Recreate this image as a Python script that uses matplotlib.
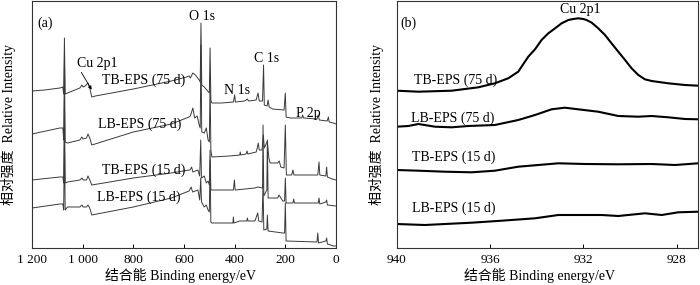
import matplotlib
matplotlib.use("Agg")
import matplotlib.pyplot as plt

plt.rcParams['font.family'] = ['Liberation Serif', 'Noto Sans CJK SC']
plt.rcParams['font.size'] = 10

# ---- panel (a): survey spectra, (binding energy eV, relative intensity)
tb75 = [(1200, 157), (1150, 158), (1090, 160), (1078, 161), (1075, 154), (1072, 210), (1069, 154),
        (1060, 155), (1011, 160), (1003, 163), (998, 161), (990, 162), (979, 165), (972, 160),
        (964, 151), (950, 152), (800, 159), (650, 167), (590, 171), (580, 172), (575, 170),
        (565, 175), (555, 173), (540, 168), (536, 166), (533, 225), (530, 163), (520, 161),
        (510, 158), (500, 155), (497, 200), (494, 148), (490, 145), (450, 145), (405, 146),
        (400, 153), (397, 146), (360, 147), (350, 149), (345, 147), (315, 148), (308, 155),
        (303, 147), (290, 147), (286, 183), (283, 143), (272, 142), (268, 148), (264, 141),
        (250, 139), (205, 138), (200, 155), (197, 131), (180, 130), (135, 130), (132, 133),
        (128, 130), (75, 129), (70, 133), (66, 128), (35, 127), (30, 131), (27, 126), (10, 125),
        (0, 124)]
lb75 = [(1200, 114), (1090, 120), (1078, 120), (1075, 108), (1072, 188), (1069, 106), (1060, 105),
        (1011, 108), (1003, 111), (998, 109), (985, 110), (979, 114), (972, 110), (964, 103),
        (800, 116), (650, 124), (580, 131), (575, 132), (565, 140), (558, 130), (548, 132),
        (540, 123), (536, 120), (533, 203), (530, 116), (520, 115), (512, 120), (505, 108),
        (500, 106), (497, 168), (494, 98), (490, 91), (420, 92), (380, 93), (378, 96), (376, 93),
        (355, 94), (351, 97), (348, 94), (315, 96), (310, 101), (307, 105), (303, 98), (292, 98),
        (287, 113), (283, 100), (271, 107), (265, 90), (260, 85), (230, 85), (224, 87), (218, 81),
        (205, 80), (200, 123), (196, 73), (175, 73), (170, 78), (166, 73), (72, 73), (67, 86),
        (64, 73), (40, 72), (37, 81), (34, 71), (15, 69), (0, 68)]
tb15 = [(1200, 68), (1090, 71), (1078, 71), (1075, 65), (1072, 148), (1069, 65), (1060, 66),
        (1011, 68), (1003, 70), (998, 68), (985, 68), (979, 72), (972, 68), (964, 63), (800, 70),
        (650, 75), (580, 78), (576, 78), (570, 81), (565, 76), (545, 78), (538, 72), (534, 108),
        (531, 70), (520, 72), (512, 65), (505, 67), (500, 63), (497, 98), (494, 58), (490, 58),
        (405, 58), (401, 68), (398, 58), (320, 60), (310, 61), (290, 60), (288, 123), (285, 52),
        (273, 58), (271, 108), (268, 50), (230, 50), (225, 53), (210, 47), (203, 47), (200, 70),
        (197, 45), (170, 45), (167, 49), (164, 45), (70, 45), (67, 50), (64, 44), (40, 46),
        (37, 48), (34, 43), (0, 42)]
lb15 = [(1200, 40), (1090, 44), (1078, 44), (1075, 38), (1072, 108), (1069, 38), (1060, 41),
        (1011, 41), (1003, 43), (998, 41), (985, 41), (979, 43), (972, 40), (964, 33), (800, 41),
        (650, 50), (580, 57), (572, 61), (566, 56), (545, 58), (538, 48), (534, 70), (531, 46),
        (520, 41), (512, 43), (505, 38), (500, 36), (497, 88), (494, 26), (490, 25), (407, 25),
        (405, 31), (403, 25), (380, 27), (352, 27), (350, 30), (347, 27), (320, 27), (309, 35),
        (305, 27), (292, 26), (288, 63), (285, 18), (273, 19), (271, 33), (268, 17), (210, 15),
        (203, 15), (200, 45), (197, 7), (75, 6), (72, 15), (69, 5), (40, 7), (37, 10), (34, 4),
        (10, 2), (0, 2)]

# ---- panel (b): Cu 2p1 region
b_tb75_e = [940.0, 939.07, 937.64, 936.50, 935.79, 935.22, 934.79, 934.36, 934.07, 933.79, 933.50,
            933.21, 932.93, 932.64, 932.43, 932.22, 932.00, 931.86, 931.64, 931.36, 931.07, 930.79,
            930.50, 930.21, 929.93, 929.64, 929.36, 929.07, 928.36, 927.64, 927.07]
b_tb75_i = [157.3, 156.3, 157.3, 160.7, 164.7, 169.7, 176.3, 191.3, 198.7, 208, 214.7,
            219.7, 224.7, 228, 229, 229.7, 229, 228, 225.3, 219.7, 213, 204.7,
            196.3, 188, 179.7, 173, 168.7, 167, 164.7, 163, 162.3]
b_lb75_e = [940.0, 939.50, 939.07, 938.36, 937.64, 936.93, 935.79, 934.79, 934.07, 933.36, 932.79,
            932.22, 931.36, 930.50, 929.64, 929.07, 928.36, 927.64, 927.07]
b_lb75_i = [121.3, 122, 124, 121.3, 120.7, 122, 123, 128, 133, 138.7, 140.3, 138.7, 136.3, 132,
            131.3, 132, 130.7, 129, 128.7]
b_tb15_e = [940.0, 939.07, 937.93, 936.79, 935.79, 934.79, 933.93, 933.07, 931.93, 930.50, 929.07,
            928.07, 927.07]
b_tb15_i = [78, 77.3, 76.3, 75.7, 77.3, 81.3, 83, 84.7, 84, 83.7, 84, 83, 84.7]
b_lb15_e = [940.0, 938.79, 937.93, 936.79, 935.50, 934.07, 933.07, 932.50, 931.21, 930.50, 929.36,
            928.64, 927.93, 927.07]
b_lb15_i = [24, 23, 24, 25.3, 27.3, 29.7, 33, 33, 33, 32, 34.7, 33, 35.7, 36.3]

series_names = ["TB-EPS (75 d)", "LB-EPS (75 d)", "TB-EPS (15 d)", "LB-EPS (15 d)"]
a_ticks = [1200, 1000, 800, 600, 400, 200, 0]
a_ticklabels = ["1 200", "1 000", "800", "600", "400", "200", "0"]
b_ticks = [940, 936, 932, 928]

xlabel = "结合能 Binding energy/eV"
ylabel = "相对强度  Relative Intensity"

fig = plt.figure(figsize=(7, 2.85), dpi=100)
ax1 = fig.add_axes([32 / 700, 37 / 285, 304 / 700, 247 / 285])
ax2 = fig.add_axes([396.7 / 700, 37 / 285, 301.6 / 700, 247 / 285])

for curve in [tb75, lb75, tb15, lb15]:
    e, inten = zip(*curve)
    ax1.plot(e, inten, color="#3a3a3a", lw=0.7)

for e, inten in [(b_tb75_e, b_tb75_i), (b_lb75_e, b_lb75_i), (b_tb15_e, b_tb15_i), (b_lb15_e, b_lb15_i)]:
    ax2.plot(e, inten, color="black", lw=1.5)

ax1.set_xlim(1200, 0)
ax2.set_xlim(940, 927.07)
ax1.set_xticks(a_ticks)
ax1.set_xticklabels(a_ticklabels)
ax2.set_xticks(b_ticks)

for ax in (ax1, ax2):
    ax.set_ylim(0, 247)
    ax.set_yticks([])
    ax.tick_params(axis="x", direction="in", length=3, width=0.7, labelsize=9.5, pad=4)
    for s in ax.spines.values():
        s.set_linewidth(0.8)
        s.set_color("#333333")
    ax.set_xlabel(xlabel, fontsize=10)
    ax.set_ylabel(ylabel, fontsize=10)

ax1.xaxis.set_label_coords(0.49, -0.08)
ax2.xaxis.set_label_coords(0.475, -0.08)
ax1.yaxis.set_label_coords(-0.053, 0.5)
ax2.yaxis.set_label_coords(-0.042, 0.5)

# panel (a) annotations
ax1.text(1149, 225, "(a)", ha="center", va="center")
ax1.text(529, 232, "O 1s", ha="center", va="center")
ax1.text(276, 190, "C 1s", ha="center", va="center")
ax1.text(391, 158, "N 1s", ha="center", va="center")
ax1.text(111, 135, "P 2p", ha="center", va="center")
ax1.text(943, 185, "Cu 2p1", ha="center", va="center")
ax1.annotate("", xy=(959, 156), xytext=(1011, 178),
             arrowprops=dict(arrowstyle="-|>", lw=0.6, color="black", mutation_scale=5))
for name, (x, y) in zip(series_names, [(758, 168), (774, 124), (758, 78), (778, 51)]):
    ax1.text(x, y, name, ha="center", va="center")

# panel (b) annotations
ax2.text(939.5, 225, "(b)", ha="center", va="center")
ax2.text(932.14, 238, "Cu 2p1", ha="center", va="center")
for name, (x, y) in zip(series_names, [(937.48, 168), (937.59, 130), (937.54, 91), (937.54, 40)]):
    ax2.text(x, y, name, ha="center", va="center")

fig.savefig("out.png", dpi=100)
